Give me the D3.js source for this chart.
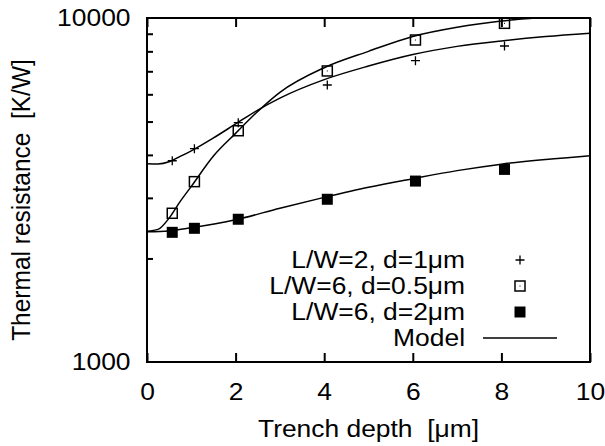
<!DOCTYPE html>
<html>
<head>
<meta charset="utf-8">
<script src="https://cdn.jsdelivr.net/npm/d3@7"></script>
<style>
  body { margin: 0; background: #fff; }
  text { font-family: "Liberation Sans", Arial, sans-serif; fill: #000; }
</style>
</head>
<body>
<svg id="chart" width="605" height="446"></svg>
<script>
// measured depths and resistances
const depths = [0.57, 1.07, 2.06, 4.07, 6.06, 8.07];
const lw2d1 = [3846, 4169, 4963, 6385, 7513, 8291];
const lw6d05 = [2706, 3344, 4702, 7015, 8630, 9650];
const lw6d2 = [2382, 2447, 2600, 2972, 3357, 3630];

// model curves
const modelX1 = [0, 0.25, 0.5, 0.75, 1, 1.5, 2, 2.5, 3, 4, 5, 6, 7, 8, 9, 10];
const model1 = [3770, 3765, 3820, 3960, 4110, 4480, 4920, 5400, 5850, 6620, 7250, 7830, 8270, 8580, 8830, 9030];
const modelX2 = [0, 0.25, 0.5, 0.75, 1, 1.5, 2, 2.5, 3, 4, 5, 6, 7, 8, 9, 10];
const model2 = [2400, 2430, 2620, 2930, 3240, 3970, 4620, 5350, 6080, 7170, 8000, 8840, 9400, 9800, 10050, 10250];
const modelX3 = [0, 0.5, 1, 2, 3, 4, 5, 6, 7, 8, 9, 10];
const model3 = [2390, 2405, 2455, 2590, 2800, 3010, 3220, 3410, 3600, 3760, 3880, 3980];

const xTicks = [0, 2, 4, 6, 8, 10];
const yLabels = [1000, 10000];
const yMinor = [2000, 3000, 4000, 5000, 6000, 7000, 8000, 9000];
const legendLabels = ["L/W=2, d=1\u03bcm", "L/W=6, d=0.5\u03bcm", "L/W=6, d=2\u03bcm", "Model"];
const legendKinds = ["plus", "box", "filled", "line"];

const svg = d3.select("#chart");
const margin = {top: 18, right: 15, bottom: 84, left: 147};
const W = 605, H = 446;
const x = d3.scaleLinear().domain([0, 10]).range([margin.left, W - margin.right]);
const y = d3.scaleLog().domain([1000, 10000]).range([H - margin.bottom, margin.top]);
const stretch = "scale(1.1,1)";

svg.append("defs").append("clipPath").attr("id", "plotclip")
  .append("rect")
  .attr("x", x(0)).attr("y", y(10000))
  .attr("width", x(10) - x(0)).attr("height", y(1000) - y(10000));

// bottom axis
const gx = svg.append("g")
  .attr("transform", "translate(0," + y(1000) + ")")
  .call(d3.axisBottom(x).tickValues(xTicks).tickSizeInner(-9).tickSizeOuter(0).tickPadding(21));
gx.select(".domain").remove();
gx.selectAll("text").attr("font-size", 24).attr("transform", stretch);
gx.selectAll("line").attr("stroke-width", 2);

// top axis ticks
const gt = svg.append("g")
  .attr("transform", "translate(0," + y(10000) + ")")
  .call(d3.axisTop(x).tickValues(xTicks).tickSizeInner(-9).tickSizeOuter(0).tickFormat(""));
gt.select(".domain").remove();
gt.selectAll("line").attr("stroke-width", 2);

// left axis: minor ticks and end labels
const gm = svg.append("g")
  .attr("transform", "translate(" + x(0) + ",0)")
  .call(d3.axisLeft(y).tickValues(yMinor).tickSizeInner(-6).tickSizeOuter(0).tickFormat(""));
gm.select(".domain").remove();
gm.selectAll("line").attr("stroke-width", 2);

const gy = svg.append("g")
  .attr("transform", "translate(" + x(0) + ",0)")
  .call(d3.axisLeft(y).tickValues(yLabels).tickSize(0).tickPadding(15).tickFormat(d3.format("d")));
gy.select(".domain").remove();
gy.selectAll("text").attr("font-size", 24).attr("transform", stretch);

// frame
svg.append("rect")
  .attr("x", x(0)).attr("y", y(10000))
  .attr("width", x(10) - x(0)).attr("height", y(1000) - y(10000))
  .attr("fill", "none").attr("stroke", "#000").attr("stroke-width", 2);

// axis titles
svg.append("text")
  .attr("text-anchor", "middle")
  .attr("font-size", 24)
  .attr("transform", "translate(" + ((x(0) + x(10)) / 2) + ",437) " + stretch)
  .text("Trench depth\u00a0\u00a0[\u03bcm]");

svg.append("text")
  .attr("text-anchor", "middle")
  .attr("font-size", 24.5)
  .attr("transform", "translate(30," + ((y(1000) + y(10000)) / 2 + 10) + ") rotate(-90) scale(1,1.08)")
  .text("Thermal resistance\u00a0\u00a0[K/W]");

// model lines
const plot = svg.append("g").attr("clip-path", "url(#plotclip)");
const line = d3.line().x(d => x(d[0])).y(d => y(d[1])).curve(d3.curveMonotoneX);
[[modelX1, model1], [modelX2, model2], [modelX3, model3]].forEach(([xs, ys]) => {
  plot.append("path")
    .datum(xs.map((v, i) => [v, ys[i]]))
    .attr("fill", "none").attr("stroke", "#000").attr("stroke-width", 1.5)
    .attr("d", line);
});

// markers
function drawMarker(g, kind, cx, cy) {
  if (kind === "plus") {
    g.append("path")
      .attr("d", `M${cx - 4.5},${cy}H${cx + 4.5}M${cx},${cy - 4.5}V${cy + 4.5}`)
      .attr("stroke", "#000").attr("stroke-width", 1.3);
  } else if (kind === "box") {
    g.append("rect").attr("x", cx - 5).attr("y", cy - 5).attr("width", 10).attr("height", 10)
      .attr("fill", "none").attr("stroke", "#000").attr("stroke-width", 1.5);
    g.append("rect").attr("x", cx - 0.5).attr("y", cy - 0.5).attr("width", 1).attr("height", 1).attr("fill", "#000");
  } else if (kind === "filled") {
    g.append("rect").attr("x", cx - 5.5).attr("y", cy - 5.5).attr("width", 11).attr("height", 11).attr("fill", "#000");
  } else if (kind === "line") {
    g.append("line").attr("x1", cx - 37).attr("x2", cx + 37).attr("y1", cy).attr("y2", cy)
      .attr("stroke", "#000").attr("stroke-width", 1.5);
  }
}

const marks = svg.append("g");
[[lw2d1, "plus"], [lw6d05, "box"], [lw6d2, "filled"]].forEach(([vals, kind]) => {
  depths.forEach((dx, i) => drawMarker(marks, kind, x(dx), y(vals[i])));
});

// legend
const legend = svg.append("g");
legendLabels.forEach((lab, i) => {
  const ly = 260 + i * 26;
  legend.append("text")
    .attr("text-anchor", "end")
    .attr("font-size", 24)
    .attr("dy", "0.35em")
    .attr("transform", "translate(465," + ly + ") " + stretch)
    .text(lab);
  drawMarker(legend, legendKinds[i], 520, ly);
});
</script>
</body>
</html>
